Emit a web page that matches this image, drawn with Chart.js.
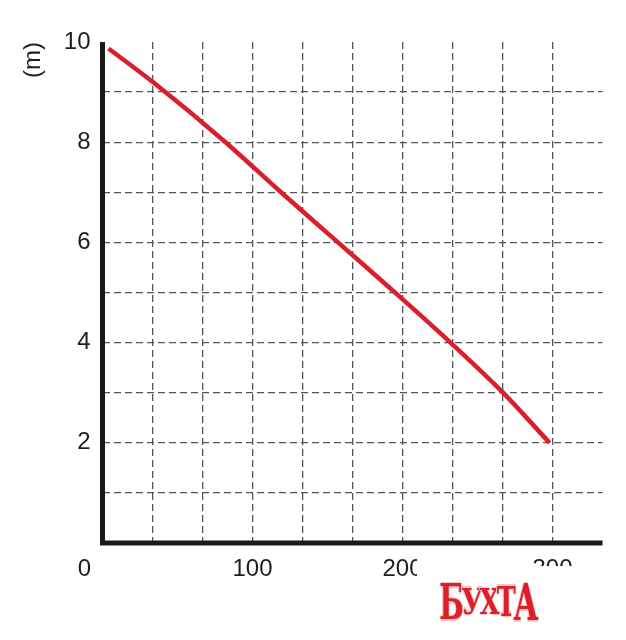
<!DOCTYPE html>
<html>
<head>
<meta charset="utf-8">
<script src="https://cdn.jsdelivr.net/npm/chart.js@4/dist/chart.umd.min.js"></script>
<style>
  html, body { margin: 0; padding: 0; background: #fff; }
  #wrap { position: relative; width: 626px; height: 640px; }
  canvas { position: absolute; left: 0; top: 0; }
  #mask { position: absolute; left: 417px; top: 550px; width: 191px; height: 90px; background: #fff;
          clip-path: polygon(0 0, 26px 16px, 191px 16px, 191px 90px, 0 90px); }
  #wm { position: absolute; left: 426px; top: 574px; width: 124px; height: 56px;
        display: flex; align-items: center; justify-content: center;
        font-family: "DejaVu Serif", serif; font-weight: 900; color: #dc1f2a;
        text-shadow: 1px 0 0 #f3c4c4, -1px 0 0 #f3c4c4, 0 1px 0 #f3c4c4, 0 -1px 0 #f3c4c4; }
  #wm span { display: inline-block; margin: 0 -3px; line-height: 1; transform-origin: center; }
</style>
</head>
<body>
<div id="wrap">
  <canvas id="c" width="626" height="640"></canvas>
  <div id="mask"></div>
  <div id="wm"><span style="font-size:34px;transform:scale(0.85,1.45)">Б</span><span style="font-size:30px;transform:scale(0.9,1.15)">У</span><span style="font-size:30px;transform:scale(0.85,1.2)">Х</span><span style="font-size:30px;transform:scale(0.85,1.35)">Т</span><span style="font-size:34px;transform:scale(0.9,1.5)">А</span></div>
</div>
<script>
// ---- data ----
const flowValues = [4, 34, 82, 119, 157, 195, 232, 267, 298];
const headValues = [9.87, 9.19, 8.0, 7.0, 6.0, 5.0, 4.0, 3.0, 2.0];
const xTickLabels = ['0', '100', '200', '300'];
const yTickLabels = ['2', '4', '6', '8', '10'];
const xMax = 1000 / 3;
const yMax = 10;
const yAxisTitle = '(m)';

const points = flowValues.map((x, i) => ({ x: x, y: headValues[i] }));
const xGridValues = [];
for (let i = 0; i <= 10; i++) xGridValues.push(i * 100 / 3);

const FONT = "'Liberation Sans', Arial, sans-serif";
const TXT = '#1e1e1e';
const GRID = '#555555';
const AXIS = '#1a1a1a';

function xLabelFor(v) {
  const r = Math.round(v);
  const s = String(r);
  if (Math.abs(v - r) < 1e-6 && xTickLabels.includes(s) && r !== 0) return s;
  return '';
}

// draws the solid axis lines and the offset "0" label
const axisPlugin = {
  id: 'axisPlugin',
  afterDatasetsDraw(chart) {
    const xs = chart.scales.x, ys = chart.scales.y;
    const ctx = chart.ctx;
    const x0 = xs.getPixelForValue(0), y0 = ys.getPixelForValue(0);
    ctx.save();
    ctx.setLineDash([]);
    ctx.strokeStyle = AXIS;
    ctx.lineWidth = 5;
    ctx.beginPath();
    ctx.moveTo(x0, ys.getPixelForValue(yMax));
    ctx.lineTo(x0, y0 + 2.5);
    ctx.moveTo(x0 - 2.5, y0);
    ctx.lineTo(xs.getPixelForValue(xMax), y0);
    ctx.stroke();
    ctx.font = '24px ' + FONT;
    ctx.fillStyle = TXT;
    ctx.textAlign = 'center';
    ctx.textBaseline = 'middle';
    ctx.fillText(xTickLabels[0], x0 - 18, xs.top + 26);
    ctx.restore();
  }
};

new Chart(document.getElementById('c'), {
  type: 'line',
  data: {
    datasets: [{
      data: points,
      borderColor: '#d8202b',
      borderWidth: 4.5,
      pointRadius: 0,
      cubicInterpolationMode: 'monotone',
      fill: false
    }]
  },
  options: {
    responsive: false,
    animation: false,
    events: [],
    layout: { padding: { top: 42, right: 23.5, left: 0, bottom: 0 } },
    plugins: { legend: { display: false }, tooltip: { enabled: false } },
    scales: {
      x: {
        type: 'linear',
        min: 0,
        max: xMax,
        afterFit(s) { s.height = 97; },
        afterBuildTicks(s) { s.ticks = xGridValues.map(v => ({ value: v })); },
        border: { display: false, dash: [7, 4] },
        grid: {
          drawTicks: false,
          lineWidth: 1.3,
          color: ctx => (ctx.tick && ctx.tick.value > 0.01 && ctx.tick.value < xMax - 0.01) ? GRID : 'rgba(0,0,0,0)'
        },
        ticks: {
          autoSkip: false,
          maxRotation: 0,
          padding: 12,
          color: TXT,
          font: { family: FONT, size: 24 },
          callback: v => xLabelFor(v)
        }
      },
      y: {
        type: 'linear',
        min: 0,
        max: yMax,
        afterFit(s) { s.width = 102.5; },
        border: { display: false, dash: [7, 4] },
        grid: {
          drawTicks: false,
          lineWidth: 1.3,
          color: ctx => (ctx.tick && ctx.tick.value > 0 && ctx.tick.value < yMax) ? GRID : 'rgba(0,0,0,0)'
        },
        ticks: {
          stepSize: 1,
          autoSkip: false,
          padding: 12,
          color: TXT,
          font: { family: FONT, size: 24 },
          callback: v => yTickLabels.includes(String(v)) ? String(v) : ''
        },
        title: {
          display: true,
          text: yAxisTitle,
          align: 'end',
          color: TXT,
          font: { family: FONT, size: 24 },
          padding: { top: 19, bottom: 0 }
        }
      }
    }
  },
  plugins: [axisPlugin]
});
</script>
</body>
</html>
